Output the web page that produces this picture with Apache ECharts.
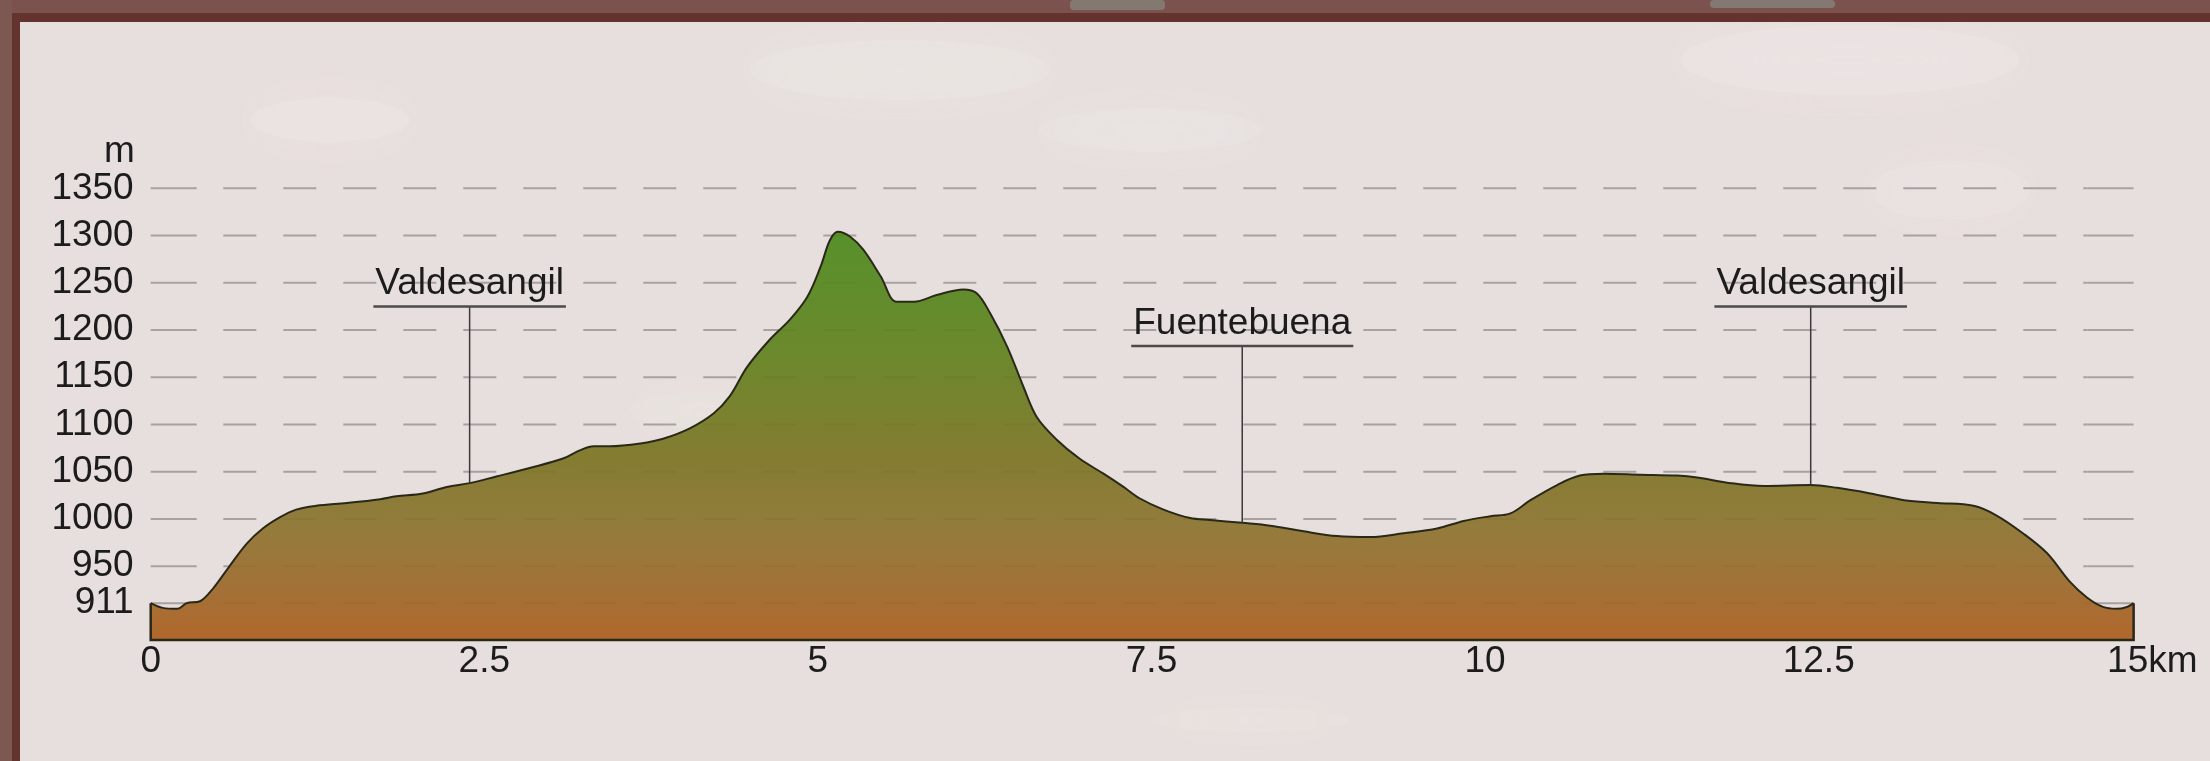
<!DOCTYPE html>
<html>
<head>
<meta charset="utf-8">
<title>Perfil</title>
<script src="https://cdn.jsdelivr.net/npm/echarts@6/dist/echarts.min.js"></script>
<style>
html, body { margin: 0; padding: 0; background: #e7dfdd; }
#profile { width: 2210px; height: 761px; }
</style>
</head>
<body>
<div id="profile"></div>
<script>
// distance (km) and elevation (m)
var km = [0, 0.09, 0.2, 0.27, 0.37, 0.47, 0.59, 0.72, 0.84, 0.97, 1.09, 1.24, 1.47, 1.72, 1.84,
    2.04, 2.22, 2.39, 2.59, 2.84, 3.09, 3.22, 3.32, 3.44, 3.67, 3.84, 4.04, 4.22, 4.34, 4.47,
    4.64, 4.79, 4.92, 5.02, 5.09, 5.15, 5.24, 5.34, 5.47, 5.59, 5.72, 5.89, 6.09, 6.19, 6.29,
    6.42, 6.54, 6.64, 6.79, 6.96, 7.14, 7.29, 7.41, 7.59, 7.79, 7.94, 8.18, 8.39, 8.64, 8.89,
    9.14, 9.39, 9.64, 9.84, 10.04, 10.19, 10.34, 10.54, 10.71, 10.89, 11.16, 11.44, 11.59,
    11.84, 12.09, 12.44, 12.64, 12.89, 13.14, 13.39, 13.66, 13.83, 14.03, 14.21, 14.38, 14.51,
    14.63, 14.73, 14.81, 14.86];
var elev = [911, 906, 905, 911, 913, 927, 950, 974, 990, 1002, 1010, 1014, 1017, 1021, 1024,
    1027, 1034, 1038, 1045, 1054, 1064, 1073, 1077, 1077, 1080, 1085, 1096, 1112, 1130, 1161,
    1190, 1211, 1235, 1267, 1295, 1304, 1299, 1285, 1257, 1230, 1230, 1237, 1243, 1239, 1218,
    1182, 1140, 1108, 1084, 1064, 1048, 1034, 1022, 1010, 1001, 999, 996, 993, 987, 982,
    981, 985, 990, 998, 1003, 1006, 1020, 1036, 1046, 1048, 1047, 1046, 1044,
    1038, 1035, 1036, 1033, 1027, 1020, 1017, 1014, 1004, 985, 964, 934, 917,
    907, 905, 907, 911];

var yTicks = [911, 950, 1000, 1050, 1100, 1150, 1200, 1250, 1300, 1350];
var xTicks = [0, 2.5, 5, 7.5, 10, 12.5, 15];

// places along the route: name, km, height of the label line (m)
var placeNames = ['Valdesangil', 'Fuentebuena', 'Valdesangil'];
var placeKm = [2.39, 8.18, 12.44];
var placeLabelAt = [1225, 1183, 1225];

var yMin = 872;
var yMax = 1350;
var FONT = '"Liberation Sans", Arial, Helvetica, sans-serif';
var INK = '#1c1c1c';
var OUTLINE = '#2a2818';

var myChart = echarts.init(document.getElementById('profile'));

var kmEnd = km[km.length - 1];

function elevAt(x) {
    for (var i = 0; i < km.length - 1; i++) {
        if (x >= km[i] && x <= km[i + 1]) {
            var t = (x - km[i]) / (km[i + 1] - km[i]);
            return elev[i] + t * (elev[i + 1] - elev[i]);
        }
    }
    return elev[elev.length - 1];
}

var measureCtx = document.createElement('canvas').getContext('2d');
measureCtx.font = '37px ' + FONT;

var profileData = km.map(function (k, i) { return [k, elev[i]]; });

// faint pale patches of the paper background
function blob(x, y, rx, ry, op) {
    return {
        type: 'ellipse', silent: true, z: 0,
        shape: { cx: x, cy: y, rx: rx, ry: ry },
        style: { fill: '#f1efec', opacity: op, shadowBlur: 40, shadowColor: '#f1efec' }
    };
}

option = {
    backgroundColor: '#e7dfdd',
    animation: false,
    grid: {
        left: 150.7,
        right: 57.7,
        top: 188.3,
        bottom: 121
    },
    xAxis: {
        type: 'value',
        min: 0,
        max: 15,
        axisLine: { show: false },
        axisTick: { show: false },
        splitLine: { show: false },
        axisLabel: {
            customValues: xTicks,
            fontSize: 37,
            fontFamily: FONT,
            color: INK,
            margin: 3,
            formatter: function (v) { return v === 15 ? '15km' : String(v); }
        }
    },
    yAxis: {
        type: 'value',
        min: yMin,
        max: yMax,
        name: 'm',
        nameLocation: 'end',
        nameGap: 16,
        nameTextStyle: {
            fontSize: 37,
            fontFamily: FONT,
            color: INK,
            align: 'right',
            padding: [0, 16, 0, 0]
        },
        axisLine: { show: false },
        axisTick: { show: false },
        splitLine: { show: false },
        axisLabel: {
            customValues: yTicks,
            fontSize: 37,
            fontFamily: FONT,
            color: INK,
            margin: 17,
            formatter: function (v) { return String(v); }
        }
    },
    graphic: [
        blob(330, 120, 80, 22, 0.22),
        blob(900, 70, 150, 30, 0.2),
        blob(1150, 130, 110, 22, 0.18),
        blob(1850, 60, 170, 35, 0.22),
        blob(1950, 190, 80, 30, 0.16),
        blob(700, 410, 70, 18, 0.14),
        blob(1250, 720, 100, 12, 0.14),
        { type: 'rect', shape: { x: 0, y: 0, width: 2210, height: 14 }, style: { fill: '#7b524e' }, z: 10 },
        { type: 'rect', shape: { x: 1070, y: 0, width: 95, height: 10, r: 4 }, style: { fill: '#878a80', opacity: 0.7 }, z: 11 },
        { type: 'rect', shape: { x: 1710, y: 0, width: 125, height: 8, r: 4 }, style: { fill: '#888a82', opacity: 0.7 }, z: 11 },
        { type: 'rect', shape: { x: 0, y: 13, width: 2210, height: 9 }, style: { fill: '#65332e' }, z: 12 },
        { type: 'rect', shape: { x: 0, y: 0, width: 12, height: 761 }, style: { fill: '#7d5853' }, z: 12 },
        { type: 'rect', shape: { x: 12, y: 13, width: 8, height: 748 }, style: { fill: '#65332e' }, z: 12 }
    ],
    series: [
        {
            // dashed guide lines at each labelled height
            type: 'custom',
            z: 1,
            silent: true,
            data: yTicks.map(function (v) { return [0, v]; }),
            renderItem: function (params, api) {
                var v = api.value(1);
                var p0 = api.coord([0, v]);
                var p1 = api.coord([kmEnd, v]);
                var solid = { stroke: '#a7a1a1', lineWidth: 2 };
                return {
                    type: 'group',
                    children: [
                        { type: 'line', shape: { x1: p0[0], y1: p0[1], x2: p0[0] + 46, y2: p0[1] }, style: solid },
                        { type: 'line', shape: { x1: p0[0] + 72.6, y1: p0[1], x2: p1[0] - 46, y2: p1[1] },
                          style: { stroke: '#a7a1a1', lineWidth: 2, lineDash: [33, 27] } },
                        { type: 'line', shape: { x1: p1[0] - 46, y1: p1[1], x2: p1[0], y2: p1[1] }, style: solid }
                    ]
                };
            }
        },
        {
            name: 'perfil',
            type: 'line',
            z: 2,
            data: profileData,
            smooth: 0.35,
            symbol: 'none',
            lineStyle: { color: OUTLINE, width: 2 },
            areaStyle: {
                origin: 'start',
                opacity: 0.93,
                color: new echarts.graphic.LinearGradient(0, 0, 0, 1, [
                    { offset: 0, color: '#4c8b1d' },
                    { offset: 0.3, color: '#62821f' },
                    { offset: 0.55, color: '#7c7524' },
                    { offset: 0.72, color: '#8c7430' },
                    { offset: 0.86, color: '#9c6a2c' },
                    { offset: 1, color: '#ad5f1e' }
                ])
            }
        },
        {
            // sides and base of the profile
            type: 'custom',
            z: 3,
            silent: true,
            data: [[km[0], elev[0]]],
            renderItem: function (params, api) {
                var pts = [
                    api.coord([km[0], elev[0]]),
                    api.coord([km[0], yMin]),
                    api.coord([kmEnd, yMin]),
                    api.coord([kmEnd, elev[elev.length - 1]])
                ];
                return {
                    type: 'polyline',
                    shape: { points: pts },
                    style: { stroke: OUTLINE, lineWidth: 2.5, fill: null }
                };
            }
        },
        {
            // place names with underline and leader line
            type: 'custom',
            z: 4,
            silent: true,
            data: placeKm.map(function (k, i) { return [k, placeLabelAt[i]]; }),
            renderItem: function (params, api) {
                var i = params.dataIndex;
                var x = api.value(0);
                var top = api.coord([x, api.value(1)]);
                var bottom = api.coord([x, elevAt(x)]);
                var name = placeNames[i];
                var w = measureCtx.measureText(name).width;
                return {
                    type: 'group',
                    children: [
                        { type: 'line', shape: { x1: top[0], y1: top[1], x2: bottom[0], y2: bottom[1] },
                          style: { stroke: '#3a3a3a', lineWidth: 1.5 } },
                        { type: 'line', shape: { x1: top[0] - w / 2 - 2, y1: top[1], x2: top[0] + w / 2 + 2, y2: top[1] },
                          style: { stroke: '#4d4a4a', lineWidth: 2.5 } },
                        { type: 'text', style: {
                            text: name, x: top[0], y: top[1] - 4,
                            textAlign: 'center', textVerticalAlign: 'bottom',
                            align: 'center', verticalAlign: 'bottom',
                            font: '37px ' + FONT, fill: INK } }
                    ]
                };
            }
        }
    ]
};

myChart.setOption(option);
</script>
</body>
</html>
